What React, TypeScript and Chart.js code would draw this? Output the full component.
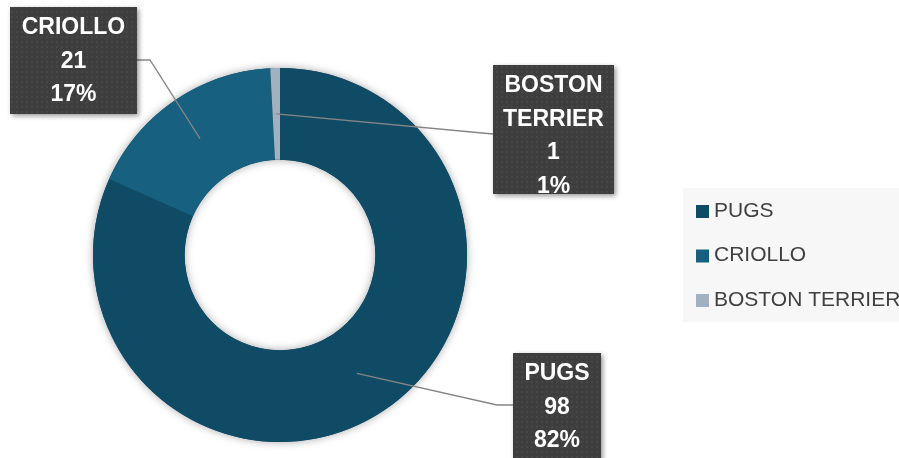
import { useEffect, useRef } from "react";
import { Chart, registerables } from "chart.js";
Chart.register(...registerables);

const categories = ["PUGS", "CRIOLLO", "BOSTON TERRIER"];
const counts = [98, 21, 1];
const percents = ["82%", "17%", "1%"];
const labelLines = [["PUGS"], ["CRIOLLO"], ["BOSTON", "TERRIER"]];
const colors = ["#104B66", "#17607F", "#A2B1BF"];

// label box layout (positions only)
const boxes = [
  { x: 513, y: 353, w: 88, h: 115, path: [[497, 405], [513, 405]] },
  { x: 10, y: 7, w: 127, h: 107, path: [[150, 60], [137, 60]] },
  { x: 493, y: 65, w: 121, h: 129, path: [[493, 134]] },
];

const FONT = "'Liberation Sans', Arial, sans-serif";

function makePattern(ctx: CanvasRenderingContext2D) {
  const c = document.createElement("canvas");
  c.width = 5;
  c.height = 5;
  const p = c.getContext("2d")!;
  p.fillStyle = "#3e3e3e";
  p.fillRect(0, 0, 5, 5);
  p.fillStyle = "#474747";
  p.fillRect(1, 1, 2, 2);
  return ctx.createPattern(c, "repeat");
}

const decorPlugin = {
  id: "decor",
  beforeDatasetsDraw(chart: any) {
    const meta = chart.getDatasetMeta(0);
    const arc = meta.data[0];
    if (!arc) return;
    const { x, y, outerRadius, innerRadius } = arc.getProps(["x", "y", "outerRadius", "innerRadius"], true);
    const ctx = chart.ctx;
    ctx.save();
    ctx.shadowColor = "rgba(0,0,0,0.35)";
    ctx.shadowBlur = 8;
    ctx.beginPath();
    ctx.arc(x, y, outerRadius, 0, Math.PI * 2);
    ctx.arc(x, y, innerRadius, 0, Math.PI * 2, true);
    ctx.closePath();
    ctx.fillStyle = colors[0];
    ctx.fill();
    ctx.restore();
  },
  afterDraw(chart: any) {
    const ctx = chart.ctx as CanvasRenderingContext2D;
    const meta = chart.getDatasetMeta(0);
    const pattern = makePattern(ctx);
    // leader lines
    meta.data.forEach((el: any, i: number) => {
      const pt = el.tooltipPosition(true);
      const b = boxes[i];
      ctx.save();
      ctx.strokeStyle = "#858585";
      ctx.lineWidth = 1.3;
      ctx.beginPath();
      ctx.moveTo(pt.x, pt.y);
      b.path.forEach((p) => ctx.lineTo(p[0], p[1]));
      ctx.stroke();
      ctx.restore();
    });
    // boxes
    meta.data.forEach((_el: any, i: number) => {
      const b = boxes[i];
      ctx.save();
      ctx.shadowColor = "rgba(0,0,0,0.4)";
      ctx.shadowBlur = 5;
      ctx.shadowOffsetX = 2;
      ctx.shadowOffsetY = 2;
      ctx.fillStyle = pattern || "#3d3d3d";
      ctx.fillRect(b.x, b.y, b.w, b.h);
      ctx.restore();
      const lines = [...labelLines[i], String(counts[i]), percents[i]];
      ctx.save();
      ctx.fillStyle = "#ffffff";
      ctx.font = `bold 23px ${FONT}`;
      ctx.textAlign = "center";
      ctx.textBaseline = "middle";
      lines.forEach((t, k) => {
        ctx.fillText(t, b.x + b.w / 2, b.y + 21 + k * 33.5);
      });
      ctx.restore();
    });
    // legend
    ctx.save();
    ctx.fillStyle = "#f7f7f7";
    ctx.fillRect(683, 188, 216, 134);
    ctx.font = `21px ${FONT}`;
    ctx.textBaseline = "middle";
    ctx.textAlign = "left";
    categories.forEach((c, i) => {
      const cy = 211 + i * 44.5;
      ctx.fillStyle = colors[i];
      ctx.fillRect(696, cy - 6, 13, 13);
      ctx.fillStyle = "#404040";
      ctx.fillText(c, 714, cy);
    });
    ctx.restore();
  },
};

export default function App() {
  const ref = useRef<HTMLCanvasElement | null>(null);
  useEffect(() => {
    document.body.style.margin = "0";
    const chart = new Chart(ref.current!, {
      type: "doughnut",
      data: {
        labels: categories,
        datasets: [
          {
            data: counts,
            backgroundColor: colors,
            borderWidth: 0,
          },
        ],
      },
      options: {
        responsive: false,
        animation: false,
        cutout: "51%",
        layout: { padding: { left: 93, right: 432, top: 68, bottom: 16 } },
        plugins: {
          legend: { display: false },
          tooltip: { enabled: false },
        },
      },
      plugins: [decorPlugin],
    });
    return () => chart.destroy();
  }, []);
  return (
    <div style={{ width: 899, height: 458, background: "#ffffff" }}>
      <canvas ref={ref} width={899} height={458} style={{ display: "block" }} />
    </div>
  );
}
